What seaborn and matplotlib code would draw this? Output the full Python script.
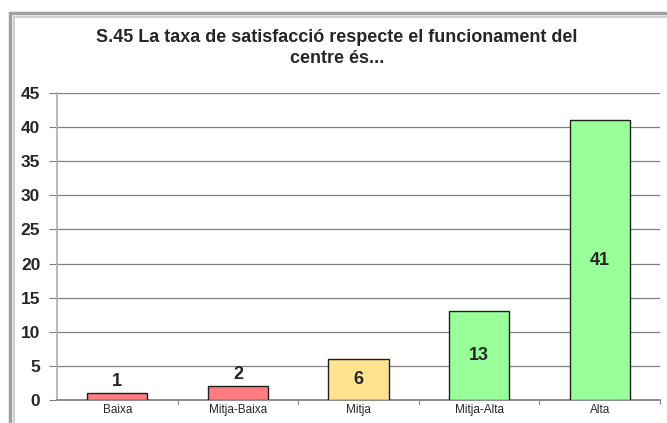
import matplotlib
matplotlib.use("Agg")
import matplotlib.pyplot as plt
import seaborn as sns
import pandas as pd
from matplotlib.patches import Rectangle

categories = ["Baixa", "Mitja-Baixa", "Mitja", "Mitja-Alta", "Alta"]
values = [1, 2, 6, 13, 41]
colors = ["#FF7C80", "#FF7C80", "#FFE38F", "#99FF99", "#99FF99"]
yticks = [0, 5, 10, 15, 20, 25, 30, 35, 40, 45]
title = "S.45 La taxa de satisfacció respecte el funcionament del\ncentre és..."

sns.set_theme(style="white")
plt.rcParams['font.family'] = ['Liberation Sans', 'DejaVu Sans']

df = pd.DataFrame({"cat": categories, "val": values})

fig = plt.figure(figsize=(6.67, 4.23), dpi=100)
fig.patch.set_facecolor("white")

# outer frame (double gray border, cropped at right/bottom)
fig.patches.append(Rectangle((10/667, -0.1), 1.2, (1 - 13/423) + 0.1, transform=fig.transFigure,
                             fill=False, edgecolor="#A0A0A0", lw=2.5, zorder=0))
fig.patches.append(Rectangle((14/667, -0.1), 1.2, (1 - 17/423) + 0.1, transform=fig.transFigure,
                             fill=False, edgecolor="#D0D0D0", lw=1.5, zorder=0))

ax = fig.add_axes([57/667, 1 - 400/423, 603/667, 307/423])
sns.barplot(data=df, x="cat", y="val", hue="cat", palette=colors, order=categories,
            hue_order=categories, width=0.5, edgecolor="#202020", linewidth=1.0,
            saturation=1, legend=False, ax=ax, zorder=3)

ax.set_ylim(0, 45)
ax.set_xlim(-0.5, len(categories) - 0.5)
ax.set_yticks(yticks)
ax.set_yticklabels([str(t) for t in yticks], fontsize=12.5, fontweight="bold")
ax.set_xticks(range(len(categories)))
ax.set_xticklabels(categories, fontsize=8.5)
ax.tick_params(axis="x", length=0, pad=3)
ax.tick_params(axis="y", length=6, width=0.8, color="#808080", pad=6, left=True)
for b in [0.5, 1.5, 2.5, 3.5, 4.5]:
    ax.plot([b, b], [0, -0.6], color="#808080", lw=0.8, clip_on=False)
ax.yaxis.grid(True, color="#808080", lw=0.9, zorder=0)
ax.set_axisbelow(True)
ax.set_xlabel("")
ax.set_ylabel("")
for s in ["top", "right"]:
    ax.spines[s].set_visible(False)
ax.spines["left"].set_color("#B0B0B0")
ax.spines["bottom"].set_color("#808080")

for i, (c, v) in enumerate(zip(categories, values)):
    if v < 5:
        ax.text(i, v + 0.5, str(v), ha="center", va="bottom", fontsize=13, fontweight="bold")
    else:
        ax.text(i, v / 2, str(v), ha="center", va="center", fontsize=13, fontweight="bold")

fig.text(337/667, 1 - 48/423, title, ha="center", va="center", fontsize=13,
         fontweight="bold", linespacing=1.3)

fig.savefig("out.png", dpi=100)
